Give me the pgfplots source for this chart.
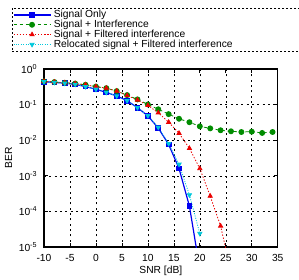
\documentclass[border=0pt]{standalone}
\usepackage{fontspec}
\setmainfont{Liberation Sans}
\usepackage{pgfplots}
\pgfplotsset{compat=1.18}

\definecolor{cBlue}{RGB}{0,0,240}
\definecolor{cGreen}{RGB}{0,140,0}
\definecolor{cRed}{RGB}{235,0,0}
\definecolor{cCyan}{RGB}{0,200,220}

\begin{document}
\begin{tikzpicture}
\begin{axis}[
  scale only axis,
  width=175.3pt, height=133.5pt,
  ymode=log, log basis y=10,
  xmin=-10, xmax=35, ymin=1e-5, ymax=1,
  xtick={-10,-5,...,35},
  ytick={1e-5,1e-4,1e-3,1e-2,1e-1,1},
  yticklabels={10\textsuperscript{-5},10\textsuperscript{-4},10\textsuperscript{-3},10\textsuperscript{-2},10\textsuperscript{-1},10\textsuperscript{0}},
  /pgf/number format/assume math mode=true,
  font=\fontsize{7.7}{9}\selectfont,
  tick label style={font=\fontsize{7.7}{9}\selectfont},
  xticklabel style={yshift=-2pt},
  yticklabel style={xshift=-1.5pt},
  tick align=inside,
  major tick length=3pt, minor tick length=1.6pt,
  tick style={black, line width=0.5pt},
  axis line style={black, line width=0.8pt},
  grid=major,
  major grid style={black, line width=0.4pt, dash pattern=on 1.5pt off 2.5pt},
  xlabel={SNR [dB]}, ylabel={BER},
  xlabel style={at={(axis description cs:0.5,-0.133)}, anchor=center},
  ylabel style={at={(axis description cs:-0.152,0.5)}, anchor=center},
  clip=true,
  legend cell align=left,
  legend style={
    at={(axis description cs:-0.137,1.343)}, anchor=north west,
    draw=black, line width=0.4pt, dash pattern=on 1.5pt off 1.5pt,
    font=\fontsize{7.7}{8}\selectfont,
    inner xsep=0.5pt, inner ysep=1.5pt, row sep=0.3pt,
    nodes={inner ysep=0pt},
    /tikz/every even column/.append style={column sep=4pt},
  },
  legend image code/.code={%
    \draw[mark repeat=2, mark phase=2] plot coordinates {(0pt,0pt) (13.9pt,0pt) (27.75pt,0pt)};},
]
% Signal only
\addplot[cBlue, line width=0.9pt, solid, mark=square*, mark size=1.7pt,
  mark options={solid, fill=cBlue}] coordinates {
  (-10,0.44) (-8,0.42) (-6,0.40) (-4,0.37) (-2,0.32) (0,0.27) (2,0.22)
  (4,0.175) (6,0.129) (8,0.082) (10,0.048) (12,0.022) (14,0.0076)
  (16,0.0016) (18,1.4e-4) (20,2.4e-6)};
\addlegendentry{Signal Only}
% Signal with unfiltered interference
\addplot[cGreen, line width=0.6pt, dash pattern=on 2.5pt off 2pt, mark=*, mark size=1.9pt,
  mark options={solid, fill=cGreen}] coordinates {
  (-10,0.45) (-8,0.43) (-6,0.41) (-4,0.39) (-2,0.36) (0,0.32) (2,0.29)
  (4,0.24) (6,0.185) (8,0.14) (10,0.101) (12,0.074) (14,0.054) (16,0.040)
  (18,0.032) (20,0.0245) (22,0.0215) (24,0.019) (26,0.0178) (28,0.017)
  (30,0.0174) (32,0.016) (34,0.017)};
\addlegendentry{Signal + Interference}
% Signal with filtered interference
\addplot[cRed, line width=0.6pt, dash pattern=on 1pt off 1.3pt, mark=triangle*, mark size=1.8pt,
  mark options={solid, fill=cRed}] coordinates {
  (-10,0.45) (-8,0.43) (-6,0.41) (-4,0.39) (-2,0.36) (0,0.32) (2,0.29)
  (4,0.24) (6,0.18) (8,0.135) (10,0.095) (12,0.059) (14,0.032)
  (16,0.0157) (18,0.0059) (20,0.0016) (22,2.7e-4) (24,3.9e-5) (26,2e-6)};
\addlegendentry{Signal + Filtered interference}
% Relocated signal with filtered interference
\addplot[cCyan, line width=0.6pt, dash pattern=on 0.8pt off 1pt, mark=triangle*, mark size=1.8pt,
  mark options={solid, fill=cCyan, rotate=180}] coordinates {
  (-10,0.44) (-8,0.42) (-6,0.40) (-4,0.37) (-2,0.32) (0,0.27) (2,0.22)
  (4,0.175) (6,0.129) (8,0.082) (10,0.049) (12,0.023) (14,0.008)
  (16,0.0021) (18,2.9e-4) (20,2.4e-5)};
\addlegendentry{Relocated signal + Filtered interference\hspace*{50pt}}
\end{axis}
\pgfresetboundingbox
\path[use as bounding box] (-33pt,-24pt) rectangle (191.25pt,185.25pt);
\end{tikzpicture}
\end{document}
